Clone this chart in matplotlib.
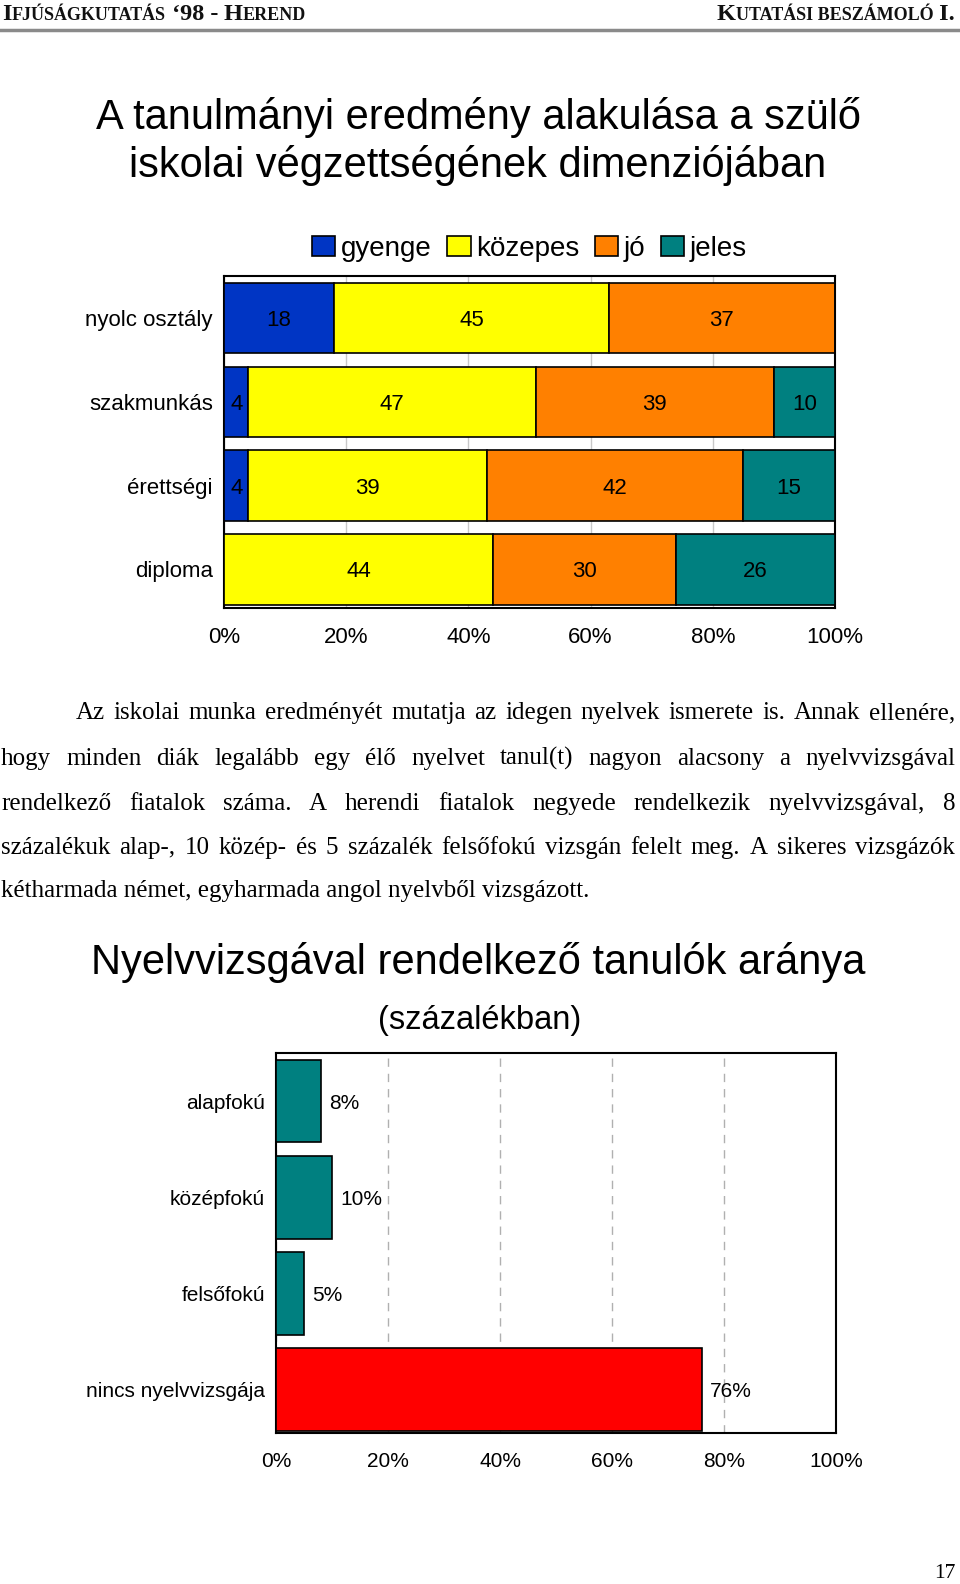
import matplotlib
matplotlib.use("Agg")
import matplotlib.pyplot as plt
import numpy as np

W, H = 960, 1584

# first chart: school results by parents' education (percent)
groups = ["nyolc osztály", "szakmunkás", "érettségi", "diploma"]
grades = ["gyenge", "közepes", "jó", "jeles"]
gyenge = [18, 4, 4, 0]
kozepes = [45, 47, 39, 44]
jo = [37, 39, 42, 30]
jeles = [0, 10, 15, 26]
grade_colors = ["#0035c4", "#ffff00", "#ff8000", "#008080"]

# second chart: language exam share (percent)
exams = ["alapfokú", "középfokú", "felsőfokú", "nincs nyelvvizsgája"]
exam_pct = [8, 10, 5, 76]
exam_colors = ["#008080", "#008080", "#008080", "#ff0000"]

pct_ticks = [0, 20, 40, 60, 80, 100]

paragraph = [
    "Az iskolai munka eredményét mutatja az idegen nyelvek ismerete is. Annak ellenére,",
    "hogy minden diák legalább egy élő nyelvet tanul(t) nagyon alacsony a nyelvvizsgával",
    "rendelkező fiatalok száma. A herendi fiatalok negyede rendelkezik nyelvvizsgával, 8",
    "százalékuk alap-, 10 közép- és 5 százalék felsőfokú vizsgán felelt meg. A sikeres vizsgázók",
    "kétharmada német, egyharmada angol nyelvből vizsgázott.",
]

SANS = "Liberation Sans"
SERIF = "Liberation Serif"


def fx(x):
    return x / W


def fy(y):
    return 1 - y / H


fig = plt.figure(figsize=(W / 100, H / 100), dpi=100)
fig.patch.set_facecolor("white")
renderer = fig.canvas.get_renderer()


# header with fake small caps
def run_pieces(pieces, x, y, align="left"):
    objs = []
    for txt, size in pieces:
        t = fig.text(0, fy(y), txt, fontsize=size, family=SERIF, weight="bold",
                     color="#111111", va="baseline", ha="left")
        objs.append(t)
    widths = [t.get_window_extent(renderer).width for t in objs]
    if align == "right":
        x = x - sum(widths)
    for t, w in zip(objs, widths):
        t.set_x(fx(x))
        x += w


big, small = 17.5, 13
run_pieces([("I", big), ("FJÚSÁGKUTATÁS", small), (" ‘98 - ", big), ("H", big), ("EREND", small)], 2, 20)
run_pieces([("K", big), ("UTATÁSI BESZÁMOLÓ", small), (" I.", big)], 955, 20, align="right")
fig.lines.append(plt.Line2D([0, 1], [fy(30), fy(30)], transform=fig.transFigure,
                            color="#8a8a8a", lw=2.5))

# first title
fig.text(fx(478), fy(117), "A tanulmányi eredmény alakulása a szülő", fontsize=30,
         family=SANS, ha="center", va="center")
fig.text(fx(478), fy(165), "iskolai végzettségének dimenziójában", fontsize=30,
         family=SANS, ha="center", va="center")

# first chart
ax1 = fig.add_axes([fx(224), fy(608), fx(835) - fx(224), fy(276) - fy(608)])
series = [gyenge, kozepes, jo, jeles]
ypos = np.arange(len(groups))
left = np.zeros(len(groups))
for name, vals, col in zip(grades, series, grade_colors):
    vals = np.array(vals, dtype=float)
    bars = ax1.barh(ypos, vals, left=left, height=0.84, color=col, edgecolor="black",
                    linewidth=1.2, label=name, zorder=3)
    for b, v in zip(bars, vals):
        if v > 0:
            ax1.text(b.get_x() + b.get_width() / 2, b.get_y() + b.get_height() / 2,
                     f"{v:g}", ha="center", va="center_baseline", fontsize=16,
                     family=SANS, zorder=4)
    left += vals
ax1.set_xlim(0, 100)
ax1.set_ylim(3.46, -0.5)
ax1.set_yticks(ypos)
ax1.set_yticklabels(groups, fontsize=16, family=SANS)
ax1.set_xticks(pct_ticks)
ax1.set_xticklabels([f"{t}%" for t in pct_ticks], fontsize=16, family=SANS)
ax1.tick_params(axis="y", length=0, pad=8)
ax1.tick_params(axis="x", length=0, pad=14)
ax1.grid(axis="x", color="#c8c8c8", lw=1, zorder=0)
for s in ax1.spines.values():
    s.set_linewidth(1.5)
    s.set_color("black")
leg = ax1.legend(loc="lower center", bbox_to_anchor=(0.5, 1.01), ncol=4, frameon=False,
                 prop={"family": SANS, "size": 20}, handlelength=0.85, handleheight=0.7,
                 handletextpad=0.2, columnspacing=0.55, borderaxespad=0)

# paragraph, justified by hand
PSIZE = 18
pleft, pright = 1, 955
line_y = [719, 765, 810, 854, 897]
for i, (line, y) in enumerate(zip(paragraph, line_y)):
    x0 = 76 if i == 0 else pleft
    if i == len(paragraph) - 1:
        fig.text(fx(x0), fy(y), line, fontsize=PSIZE, family=SERIF, va="baseline", ha="left")
        continue
    words = line.split()
    objs = [fig.text(0, fy(y), w, fontsize=PSIZE, family=SERIF, va="baseline", ha="left")
            for w in words]
    widths = [t.get_window_extent(renderer).width for t in objs]
    gap = (pright - x0 - sum(widths)) / (len(words) - 1)
    x = x0
    for t, w in zip(objs, widths):
        t.set_x(fx(x))
        x += w + gap

# second title
fig.text(fx(478), fy(963), "Nyelvvizsgával rendelkező tanulók aránya", fontsize=30,
         family=SANS, ha="center", va="center")
fig.text(fx(480), fy(1020), "(százalékban)", fontsize=23.5, family=SANS, ha="center", va="center")

# second chart
ax2 = fig.add_axes([fx(276), fy(1433), fx(836) - fx(276), fy(1053) - fy(1433)])
epos = np.arange(len(exams))
bars = ax2.barh(epos, exam_pct, height=0.86, color=exam_colors, edgecolor="black",
                linewidth=1.2, zorder=3)
for b, v in zip(bars, exam_pct):
    ax2.text(b.get_width() + 1.5, b.get_y() + b.get_height() / 2, f"{v}%",
             ha="left", va="center_baseline", fontsize=15, family=SANS, zorder=4)
ax2.set_xlim(0, 100)
ax2.set_ylim(3.45, -0.5)
ax2.set_yticks(epos)
ax2.set_yticklabels(exams, fontsize=15, family=SANS)
ax2.set_xticks(pct_ticks)
ax2.set_xticklabels([f"{t}%" for t in pct_ticks], fontsize=15, family=SANS)
ax2.tick_params(axis="y", length=0, pad=8)
ax2.tick_params(axis="x", length=0, pad=14)
ax2.grid(axis="x", color="#b0b0b0", lw=1, ls=(0, (6, 5)), zorder=0)
for s in ax2.spines.values():
    s.set_linewidth(1.5)
    s.set_color("black")

# page number
fig.text(fx(945), fy(1574), "17", fontsize=15.5, family=SERIF, ha="center", va="center")

fig.savefig("out.png", dpi=100)
